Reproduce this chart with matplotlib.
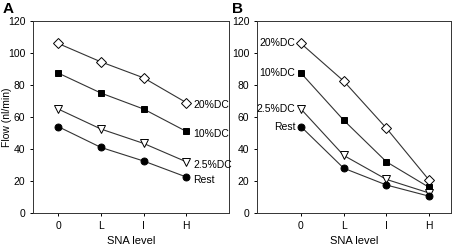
import matplotlib.pyplot as plt

# SNA levels on the x axis
levels = ['0', 'L', 'I', 'H']
series = ['20%DC', '10%DC', '2.5%DC', 'Rest']

# panel A flows (nl/min)
flow_a_20 = [106, 94.5, 84.5, 69]
flow_a_10 = [87.5, 75, 65, 51]
flow_a_25 = [65, 52.5, 43.5, 32]
flow_a_rest = [54, 41, 32.5, 22.5]

# panel B flows (nl/min)
flow_b_20 = [106, 82.5, 53, 20.5]
flow_b_10 = [87.5, 58, 32, 16]
flow_b_25 = [65, 36, 21, 12.5]
flow_b_rest = [54, 28, 17.5, 10.5]

styles = [
    dict(marker='D', mfc='white', mec='black', ms=4.6),
    dict(marker='s', mfc='black', mec='black', ms=4.6),
    dict(marker='v', mfc='white', mec='black', ms=5.5),
    dict(marker='o', mfc='black', mec='black', ms=5),
]

plt.rcParams['font.family'] = ['Liberation Sans', 'DejaVu Sans']
fig = plt.figure(figsize=(4.54, 2.47), dpi=100)
ax_a = fig.add_axes([0.0727, 0.1377, 0.4317, 0.777])
ax_b = fig.add_axes([0.566, 0.1377, 0.4273, 0.777])

x = list(range(len(levels)))


def draw_panel(ax, data, xlim, side):
    for name, y, st in zip(series, data, styles):
        ax.plot(x, y, color='#333333', lw=0.8, zorder=2)
        ax.plot(x, y, ls='none', mew=0.7, zorder=3, **st)
        if side == 'right':
            ax.annotate(name, (x[-1], y[-1]), xytext=(5, -2), textcoords='offset points',
                        ha='left', va='center', fontsize=7.5)
        else:
            ax.annotate(name, (x[0], y[0]), xytext=(-4, 0), textcoords='offset points',
                        ha='right', va='center', fontsize=7.5)
    ax.set_xlim(*xlim)
    ax.set_ylim(0, 120)
    ax.set_xticks(x)
    ax.set_xticklabels(levels)
    ax.set_yticks(range(0, 121, 20))
    ax.tick_params(labelsize=7.5, length=2.5, width=0.7, pad=3, direction='out',
                   top=False, right=False)
    for sp in ax.spines.values():
        sp.set_linewidth(0.7)
        sp.set_color('#333333')
    ax.set_xlabel('SNA level', fontsize=8, labelpad=4)


draw_panel(ax_a, [flow_a_20, flow_a_10, flow_a_25, flow_a_rest], (-0.59, 4.0), 'right')
draw_panel(ax_b, [flow_b_20, flow_b_10, flow_b_25, flow_b_rest], (-1.03, 3.51), 'left')
ax_a.set_ylabel('Flow (nl/min)', fontsize=7.5)
ax_a.yaxis.set_label_coords(-0.108, 0.5)

fig.text(3 / 454, 1 - 2 / 247, 'A', fontsize=11, fontweight='bold', va='top', ha='left')
fig.text(232 / 454, 1 - 2 / 247, 'B', fontsize=11, fontweight='bold', va='top', ha='left')

fig.savefig('out.png', dpi=100)
